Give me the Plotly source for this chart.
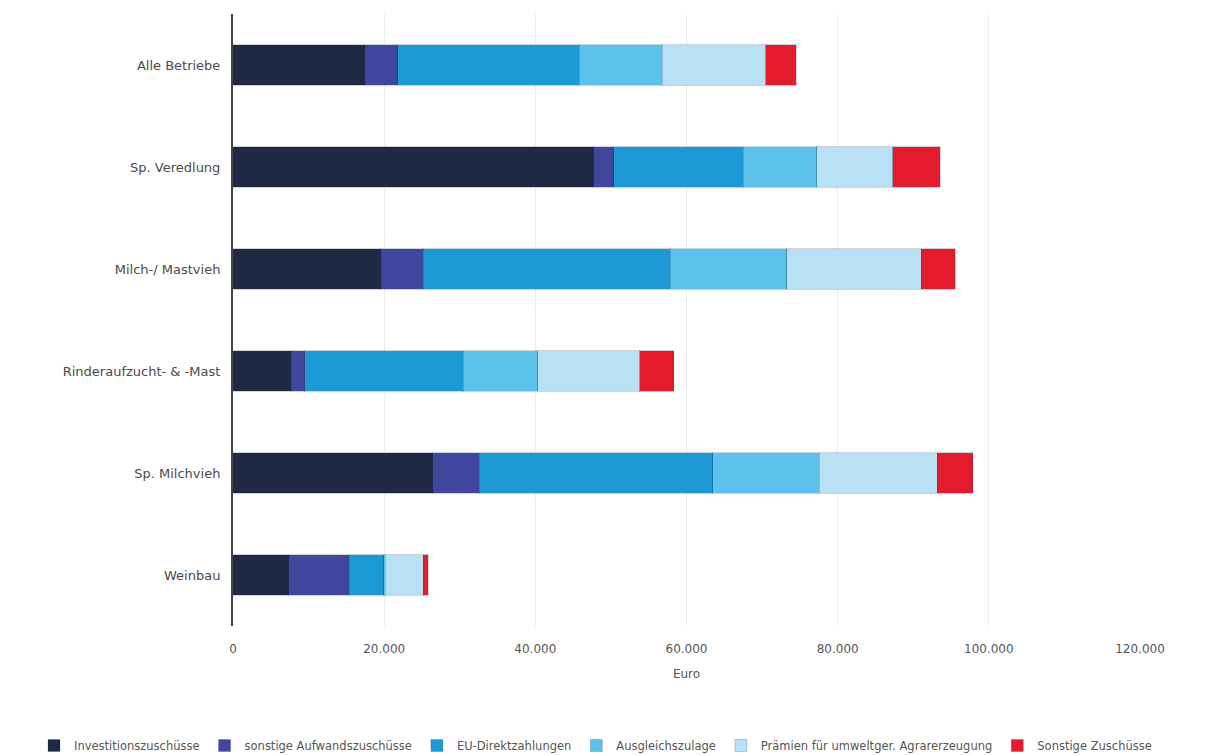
import plotly.graph_objects as go

categories = ["Alle Betriebe", "Sp. Veredlung", "Milch-/ Mastvieh",
              "Rinderaufzucht- & -Mast", "Sp. Milchvieh", "Weinbau"]

series_names = ["Investitionszuschüsse", "sonstige Aufwandszuschüsse",
                "EU-Direktzahlungen", "Ausgleichszulage",
                "Prämien für umweltger. Agrarerzeugung", "Sonstige Zuschüsse"]

investitionszuschuesse = [17400, 47700, 19600, 7700, 26400, 7400]
sonstige_aufwandszuschuesse = [4400, 2700, 5550, 1800, 6200, 8000]
eu_direktzahlungen = [24000, 17100, 32700, 20950, 30850, 4550]
ausgleichszulage = [11000, 9700, 15400, 9900, 14100, 200]
praemien_umwelt = [13700, 10100, 17800, 13450, 15600, 5000]
sonstige_zuschuesse = [4050, 6240, 4500, 4500, 4750, 660]

tick_values = [0, 20000, 40000, 60000, 80000, 100000, 120000]
tick_labels = ["0", "20.000", "40.000", "60.000", "80.000", "100.000", "120.000"]

colors = ["#1f2944", "#3f469c", "#1d9ad6", "#5cc2ec", "#b9e1f6", "#e31b2d"]
series_values = [investitionszuschuesse, sonstige_aufwandszuschuesse,
                 eu_direktzahlungen, ausgleichszulage, praemien_umwelt,
                 sonstige_zuschuesse]

FONT = "DejaVu Sans, Verdana, sans-serif"

fig = go.Figure()
for name, vals, col in zip(series_names, series_values, colors):
    fig.add_trace(go.Bar(
        y=categories, x=vals, name=name, orientation="h",
        marker=dict(color=col, line=dict(width=1, color="rgba(30,50,80,0.22)")),
        width=0.4,
    ))

PLOT_L, PLOT_R, PLOT_T, PLOT_B = 233, 1140, 14, 626
plot_w = PLOT_R - PLOT_L
plot_h = PLOT_B - PLOT_T

fig.update_layout(
    barmode="stack",
    width=1206, height=755,
    margin=dict(l=PLOT_L, r=1206 - PLOT_R, t=PLOT_T, b=755 - PLOT_B,
                autoexpand=False),
    paper_bgcolor="white", plot_bgcolor="white",
    font=dict(family=FONT, size=12, color="#555555"),
    xaxis=dict(
        range=[0, 120000], tickvals=tick_values, ticktext=tick_labels,
        showgrid=True, gridcolor="#ececec", gridwidth=1,
        zeroline=False, showline=False, ticks="", automargin=False,
        ticklabelstandoff=14,
        title=dict(text="Euro", font=dict(family=FONT, size=12, color="#555555"),
                   standoff=14),
        tickfont=dict(family=FONT, size=12, color="#555555"),
    ),
    yaxis=dict(
        autorange="reversed", showgrid=False, zeroline=False, automargin=False,
        showline=True, linecolor="#444444", linewidth=1.5,
        ticks="", ticksuffix="  ",
        tickfont=dict(family=FONT, size=13, color="#4a4a4a"),
    ),
    legend=dict(
        orientation="h",
        x=(34 - PLOT_L) / plot_w, xanchor="left",
        y=-(731 - PLOT_B) / plot_h, yanchor="top",
        font=dict(family=FONT, size=11.5, color="#555555"),
        itemwidth=30, traceorder="normal",
    ),
)

fig.write_html("out.html")
